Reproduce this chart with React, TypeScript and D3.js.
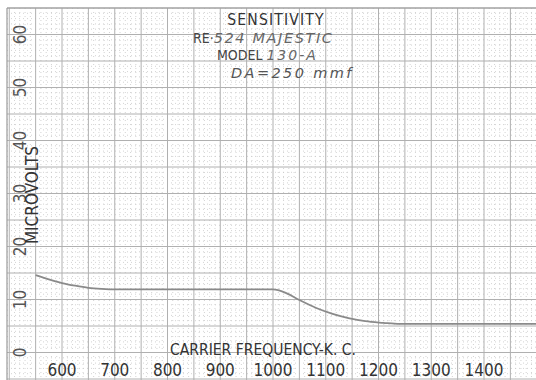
import React from "react";
import * as d3 from "d3";

const freqKc = [550, 575, 600, 625, 650, 675, 700, 800, 900, 1000, 1025, 1050, 1082, 1113, 1143, 1175, 1209, 1240, 1300, 1400, 1500];
const microvolts = [14.6, 13.8, 13.1, 12.6, 12.2, 12.0, 11.9, 11.9, 11.9, 11.9, 11.2, 9.9, 8.4, 7.3, 6.5, 5.9, 5.6, 5.4, 5.4, 5.4, 5.4];
const xTicks = [600, 700, 800, 900, 1000, 1100, 1200, 1300, 1400];
const yTicks = [0, 10, 20, 30, 40, 50, 60];
const titleLines = ["SENSITIVITY"];

const W = 536;
const H = 380;

export default function App() {
  const x = d3.scaleLinear().domain([600, 1400]).range([62, 484]);
  const y = d3.scaleLinear().domain([0, 60]).range([352.5, 34.5]);
  const left = 7;
  const top = 8;

  const minorX = d3.range(500, 1510, 10).filter((v) => v % 50 !== 0);
  const majorX = d3.range(500, 1510, 50);
  const minorY = d3.range(-6, 66, 1).filter((v) => v % 5 !== 0);
  const majorY = d3.range(-5, 66, 5);

  const line = d3
    .line<number>()
    .x((_, i) => x(freqKc[i]))
    .y((d) => y(d))
    .curve(d3.curveMonotoneX);

  const tickFont = "'Liberation Sans Narrow', 'DejaVu Sans Condensed', 'Liberation Sans', sans-serif";
  const handFont = "'DejaVu Sans', sans-serif";

  return (
    <svg width={W} height={H} style={{ position: "absolute", left: 0, top: 0, background: "#fff" }}>
      <rect x={0} y={0} width={W} height={H} fill="#fff" />
      <g>
        {minorX.map((v) => (
          <line key={"mx" + v} x1={x(v)} x2={x(v)} y1={top} y2={H} stroke="#c8c8c8" strokeWidth={0.8} strokeDasharray="1,3" />
        ))}
        {minorY.map((v) => (
          <line key={"my" + v} x1={left} x2={W} y1={y(v)} y2={y(v)} stroke="#c8c8c8" strokeWidth={0.8} strokeDasharray="1,3" />
        ))}
        {majorX.map((v) => (
          <line key={"Mx" + v} x1={x(v)} x2={x(v)} y1={top} y2={H} stroke="#b0b0b0" strokeWidth={1} />
        ))}
        {majorY.map((v) => (
          <line key={"My" + v} x1={left} x2={W} y1={y(v)} y2={y(v)} stroke="#b0b0b0" strokeWidth={1} />
        ))}
        <line x1={left} x2={left} y1={top} y2={H} stroke="#999" strokeWidth={1.2} />
        <line x1={left} x2={W} y1={top} y2={top} stroke="#999" strokeWidth={1.2} />
      </g>

      <path d={line(microvolts) || ""} fill="none" stroke="#8a8a8a" strokeWidth={1.8} />

      {yTicks.map((v) => (
        <text
          key={"yt" + v}
          transform={`translate(20,${y(v)}) rotate(-90)`}
          textAnchor="middle"
          dominantBaseline="central"
          fontFamily={tickFont}
          fontSize={17}
          fill="#555"
        >
          {v}
        </text>
      ))}
      <text
        transform="translate(32,195) rotate(-90)"
        textAnchor="middle"
        dominantBaseline="central"
        fontFamily={tickFont}
        fontSize={17}
        fill="#333"
      >
        MICROVOLTS
      </text>

      {xTicks.map((v) => (
        <text
          key={"xt" + v}
          x={x(v)}
          y={370}
          textAnchor="middle"
          dominantBaseline="central"
          fontFamily={tickFont}
          fontSize={17}
          fill="#333"
        >
          {v}
        </text>
      ))}
      <text x={263} y={350} textAnchor="middle" dominantBaseline="central" fontFamily={tickFont} fontSize={15.5} fill="#333">
        CARRIER FREQUENCY-K. C.
      </text>

      {titleLines.map((t) => (
        <text key={t} x={276} y={20} textAnchor="middle" dominantBaseline="central" fontFamily={tickFont} fontSize={15.5} letterSpacing={1.2} fill="#333">
          {t}
        </text>
      ))}
      <text x={193} y={38} dominantBaseline="central" fill="#444">
        <tspan fontFamily={tickFont} fontSize={14}>RE·</tspan>
        <tspan fontFamily={handFont} fontStyle="italic" fill="#666" fontSize={14.5} letterSpacing={1.6}>524 MAJESTIC</tspan>
      </text>
      <text x={217} y={55} dominantBaseline="central" fill="#444">
        <tspan fontFamily={tickFont} fontSize={14}>MODEL </tspan>
        <tspan fontFamily={handFont} fontStyle="italic" fill="#666" fontSize={14} letterSpacing={2}>130-A</tspan>
      </text>
      <text x={231} y={73} dominantBaseline="central" fontFamily={handFont} fontStyle="italic" fontSize={14.5} fill="#555" letterSpacing={2.4}>
        DA=250 mmf
      </text>
    </svg>
  );
}
